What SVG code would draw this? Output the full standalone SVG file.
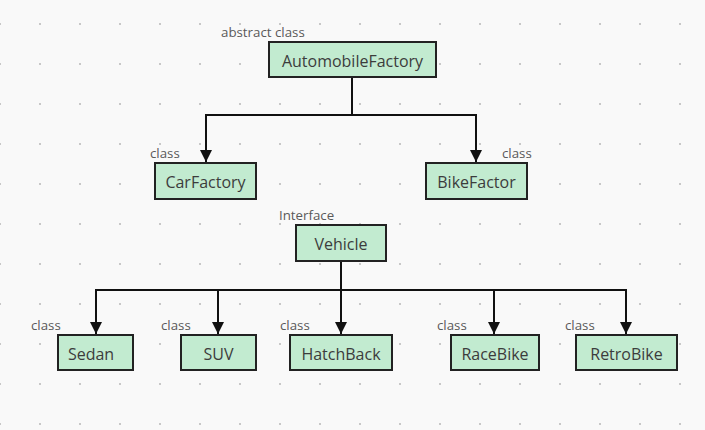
<svg xmlns="http://www.w3.org/2000/svg" width="705" height="430" viewBox="0 0 705 430">
<style>
.box{fill:#c2ebd0;stroke:#222;stroke-width:2}
.t{font-family:"Open Sans","Noto Sans",sans-serif;font-size:16px;fill:#3c3c3c;text-anchor:middle}
.l{font-family:"Open Sans","Noto Sans",sans-serif;font-size:13.3px;fill:#5a5a5a}
.c{fill:none;stroke:#111;stroke-width:2}
</style>
<defs>
<pattern id="grid" x="0" y="24" width="40" height="40" patternUnits="userSpaceOnUse">
<rect x="-1" y="-1" width="2" height="2" fill="#c8c8c8"/>
<rect x="39" y="-1" width="2" height="2" fill="#c8c8c8"/>
<rect x="-1" y="39" width="2" height="2" fill="#c8c8c8"/>
<rect x="39" y="39" width="2" height="2" fill="#c8c8c8"/>
</pattern>
<marker id="arr" viewBox="0 0 10 10" refX="10" refY="5" markerWidth="6" markerHeight="6" markerUnits="strokeWidth" orient="auto">
<path d="M0,0 L10,5 L0,10 z" fill="#111"/>
</marker>
</defs>
<rect width="705" height="430" fill="#f9f9f9"/>
<rect width="705" height="430" fill="url(#grid)"/>
<g id="connectors">
<path class="c" d="M352,77 V115 H206 V162" marker-end="url(#arr)"/>
<path class="c" d="M352,115 H476 V162" marker-end="url(#arr)"/>
<path class="c" d="M341,261 V290 H96 V334" marker-end="url(#arr)"/>
<path class="c" d="M218,290 V334" marker-end="url(#arr)"/>
<path class="c" d="M341,290 V334" marker-end="url(#arr)"/>
<path class="c" d="M341,290 H626 V334" marker-end="url(#arr)"/>
<path class="c" d="M494,290 V334" marker-end="url(#arr)"/>
</g>
<g id="AutomobileFactory">
<text class="l" x="221" y="37">abstract class</text>
<rect class="box" x="269" y="42" width="167" height="35"/>
<text class="t" x="352.5" y="67">AutomobileFactory</text>
</g>
<g id="CarFactory">
<text class="l" x="150" y="158">class</text>
<rect class="box" x="155" y="163" width="101" height="36"/>
<text class="t" x="205.5" y="188">CarFactory</text>
</g>
<g id="BikeFactor">
<text class="l" x="502" y="158">class</text>
<rect class="box" x="426" y="163" width="101" height="36"/>
<text class="t" x="476.5" y="188">BikeFactor</text>
</g>
<g id="Vehicle">
<text class="l" x="279" y="220">Interface</text>
<rect class="box" x="296" y="225" width="90" height="36"/>
<text class="t" x="341" y="250">Vehicle</text>
</g>
<g id="Sedan">
<text class="l" x="31" y="330">class</text>
<rect class="box" x="58" y="335" width="75" height="35"/>
<text class="t" x="91" y="360">Sedan</text>
</g>
<g id="SUV">
<text class="l" x="161" y="330">class</text>
<rect class="box" x="181" y="335" width="75" height="35"/>
<text class="t" x="218.5" y="360">SUV</text>
</g>
<g id="HatchBack">
<text class="l" x="280" y="330">class</text>
<rect class="box" x="290" y="335" width="102" height="35"/>
<text class="t" x="341" y="360">HatchBack</text>
</g>
<g id="RaceBike">
<text class="l" x="437" y="330">class</text>
<rect class="box" x="451" y="335" width="88" height="35"/>
<text class="t" x="495" y="360">RaceBike</text>
</g>
<g id="RetroBike">
<text class="l" x="565" y="330">class</text>
<rect class="box" x="576" y="335" width="101" height="35"/>
<text class="t" x="626.5" y="360">RetroBike</text>
</g>
</svg>
